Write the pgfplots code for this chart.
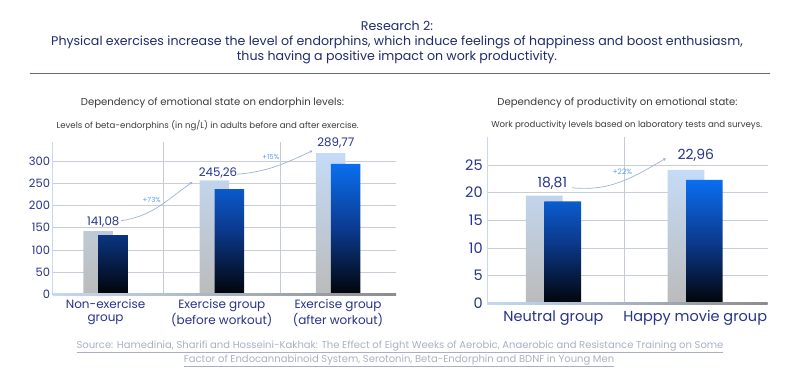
\documentclass[border=0pt]{standalone}
\usepackage{pgfplots}
\pgfplotsset{compat=1.18}
\usetikzlibrary{arrows.meta}
\usepackage{fontspec}
\setmainfont{Poppins}
\definecolor{navy}{HTML}{27338A}
\definecolor{titlec}{HTML}{1F2B6E}
\definecolor{subc}{HTML}{3A3A3A}
\definecolor{rulec}{HTML}{5A6AA0}
\definecolor{gridc}{HTML}{C9CDD8}
\definecolor{vgridc}{HTML}{C6CAD4}
\definecolor{lbtop}{HTML}{C4DBF7}
\definecolor{lbbot}{HTML}{BBBBBB}
\definecolor{dbtop}{HTML}{0A6EF0}
\definecolor{dbmid}{HTML}{0B3A8E}
\definecolor{dbbot}{HTML}{020408}
\definecolor{axblue}{HTML}{C5D9F3}
\definecolor{axgrey}{HTML}{8C8C8C}
\definecolor{pctc}{HTML}{5B9BF0}
\definecolor{arrc}{HTML}{9DB2D6}
\definecolor{srcc}{HTML}{A9AFC6}
\begin{document}
\begin{tikzpicture}[x=1pt,y=1pt]
\path[use as bounding box] (0,0) rectangle (800,381);
% title
\node[font=\fontsize{12.6}{15}\selectfont, text=titlec, align=center] at (397,338.3)
  {Research 2:\\Physical exercises increase the level of endorphins, which induce feelings of happiness and boost enthusiasm,\\thus having a positive impact on work productivity.};
\draw[rulec, line width=1pt] (30,307.3) -- (770,307.3);
% subtitles
\node[font=\fontsize{10.1}{12}\selectfont, text=subc] at (212.5,278.3) {Dependency of emotional state on endorphin levels:};
\node[font=\fontsize{8.6}{10}\selectfont, text=subc] at (207.7,255.3) {Levels of beta-endorphins (in ng/L) in adults before and after exercise.};
\node[font=\fontsize{10.1}{12}\selectfont, text=subc] at (617.5,278.3) {Dependency of productivity on emotional state:};
\node[font=\fontsize{8.6}{10}\selectfont, text=subc] at (626.7,255.3) {Work productivity levels based on laboratory tests and surveys.};

% left chart
\begin{axis}[
  at={(52.7pt,86.7pt)}, anchor=south west, scale only axis,
  width=343.3pt, height=152.6pt,
  xmin=-0.455, xmax=2.499, ymin=0, ymax=343.9,
  axis line style={draw=none}, major tick length=0pt,
  xtick={0,1,2},
  xticklabels={{Non-exercise\\group},{Exercise group\\(before workout)},{Exercise group\\(after workout)}},
  xticklabel style={align=center, font=\fontsize{12}{13.3}\selectfont, text=navy, inner sep=0pt, yshift=-5pt},
  ytick={0,50,100,150,200,250,300},
  yticklabel style={font=\fontsize{11.5}{13}\selectfont, text=navy, inner sep=0pt, xshift=-2.5pt},
  /pgf/number format/assume math mode=true,
  ymajorgrids, major grid style={gridc, line width=0.6pt},
  extra x ticks={0.5,1.5}, extra x tick labels={},
  extra x tick style={grid=major, major grid style={vgridc, line width=0.8pt}},
  clip=false,
]
\addplot[ybar, bar width=29.5pt, bar shift=-7.5pt, draw=none, top color=lbtop, bottom color=lbbot]
  coordinates {(0,142.5) (1,256.5) (2,318)};
\addplot[ybar, bar width=29.5pt, bar shift=7.5pt, draw=none, top color=dbtop, bottom color=dbbot, middle color=dbmid]
  coordinates {(0,133.5) (1,237) (2,294)};
\end{axis}
\draw[axblue, line width=1.5pt] (52.7,86.7) -- (52.7,239.3);
\shade[left color=axblue, right color=axgrey] (52.7,85.7) rectangle (396,87.7);

% right chart
\begin{axis}[
  at={(487.3pt,77.7pt)}, anchor=south west, scale only axis,
  width=280.4pt, height=166.6pt,
  xmin=-0.467, xmax=1.512, ymin=0, ymax=30.1,
  axis line style={draw=none}, major tick length=0pt,
  xtick={0,1},
  xticklabels={{Neutral group},{Happy movie group}},
  xticklabel style={align=center, font=\fontsize{14.5}{16}\selectfont, text=navy, inner sep=0pt, yshift=-7pt},
  ytick={0,5,10,15,20,25},
  yticklabel style={font=\fontsize{14.5}{16}\selectfont, text=navy, inner sep=0pt, xshift=-4.5pt},
  /pgf/number format/assume math mode=true,
  ymajorgrids, major grid style={gridc, line width=0.6pt},
  extra x ticks={0.5}, extra x tick labels={},
  extra x tick style={grid=major, major grid style={vgridc, line width=0.8pt}},
  clip=false,
]
\addplot[ybar, bar width=36.7pt, bar shift=-9.2pt, draw=none, top color=lbtop, bottom color=lbbot]
  coordinates {(0,19.45) (1,24.1)};
\addplot[ybar, bar width=36.7pt, bar shift=9.2pt, draw=none, top color=dbtop, bottom color=dbbot, middle color=dbmid]
  coordinates {(0,18.4) (1,22.3)};
\end{axis}
\draw[axblue, line width=1.5pt] (487.3,77.7) -- (487.3,244.3);
\shade[left color=axblue, right color=axgrey] (487.3,76.7) rectangle (767.7,78.7);

% value labels
\begin{scope}[every node/.style={text=navy}]
\node[font=\fontsize{11.8}{13}\selectfont] at (103.3,159.3) {141,08};
\node[font=\fontsize{11.8}{13}\selectfont] at (218,208.3) {245,26};
\node[font=\fontsize{11.8}{13}\selectfont] at (335.8,237.7) {289,77};
\node[font=\fontsize{14}{16}\selectfont] at (552.3,197.7) {18,81};
\node[font=\fontsize{14}{16}\selectfont] at (695.8,225.3) {22,96};
\end{scope}
% arrows
\draw[arrc, line width=0.7pt, -{Stealth[length=3pt,width=3pt]}] (121,160.3) to[out=8,in=215] (192.5,199);
\draw[arrc, line width=0.7pt, -{Stealth[length=3pt,width=3pt]}] (237,206.7) to[out=5,in=205] (312.5,230.3);
\draw[arrc, line width=0.7pt, -{Stealth[length=3pt,width=3pt]}] (572,193.3) to[out=-6,in=210] (666,222.7);
\node[font=\fontsize{7}{8}\selectfont, text=pctc] at (151.7,181) {+73\%};
\node[font=\fontsize{7}{8}\selectfont, text=pctc] at (270.7,223.7) {+15\%};
\node[font=\fontsize{7.5}{8}\selectfont, text=pctc] at (622.3,209.3) {+22\%};
% source
\node[font=\fontsize{10}{11}\selectfont, text=srcc] at (400,34.3) {\underline{Source: Hamedinia, Sharifi and Hosseini-Kakhak: The Effect of Eight Weeks of Aerobic, Anaerobic and Resistance Training on Some}};
\node[font=\fontsize{10}{11}\selectfont, text=srcc] at (399,20.3) {\underline{Factor of Endocannabinoid System, Serotonin, Beta-Endorphin and BDNF in Young Men}};
\end{tikzpicture}
\end{document}
